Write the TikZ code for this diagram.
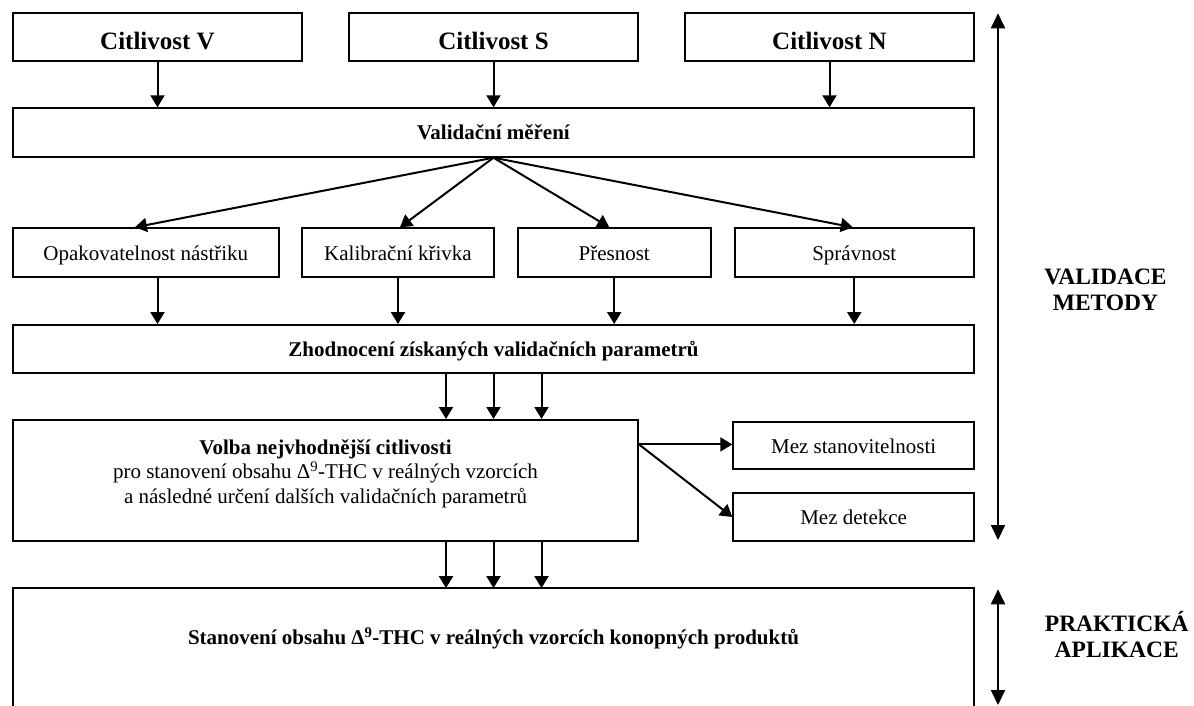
\documentclass[tikz,border=0pt]{standalone}
\usepackage{fontspec}
\setmainfont{Liberation Serif}
\usetikzlibrary{arrows.meta,calc}
\begin{document}
\begin{tikzpicture}[x=1pt,y=-1pt,
  box/.style={draw, line width=2pt, inner sep=0pt, align=center,
    text height=16.5pt, text depth=1.5pt,
    font=\fontsize{21}{24.5}\selectfont},
  bbox/.style={box, font=\bfseries\fontsize{21}{24.5}\selectfont},
  cbox/.style={box, text height=28pt, text depth=2pt, font=\bfseries\fontsize{25}{28}\selectfont},
  arr/.style={line width=2pt, -{Triangle[length=12pt,width=14pt]}},
  darr/.style={line width=2pt, {Triangle[length=15pt,width=14pt]}-{Triangle[length=15pt,width=14pt]}},
  side/.style={align=center, inner sep=0pt, font=\bfseries\fontsize{23.5}{26.5}\selectfont}]
\useasboundingbox (0,0) rectangle (1194,706);

% top row
\node[cbox, minimum width=289pt, minimum height=48.3pt] (cv) at (157.5,36.85) {Citlivost V};
\node[cbox, minimum width=289pt, minimum height=48.3pt] (cs) at (493.5,36.85) {Citlivost S};
\node[cbox, minimum width=289pt, minimum height=48.3pt] (cn) at (829.5,36.85) {Citlivost N};

% validation measurement
\node[bbox, minimum width=961pt, minimum height=48.4pt] (val) at (493.5,132.5) {Validační měření};

% second row
\node[box, minimum width=265.6pt, minimum height=49pt] (op) at (145.8,252.8) {Opakovatelnost nástřiku};
\node[box, minimum width=191.4pt, minimum height=49pt] (ka) at (398,252.8) {Kalibrační křivka};
\node[box, minimum width=192.8pt, minimum height=49pt] (pr) at (614.2,252.8) {Přesnost};
\node[box, minimum width=239.5pt, minimum height=49pt] (sp) at (854.25,252.8) {Správnost};

% evaluation
\node[bbox, minimum width=961pt, minimum height=48.3pt] (zh) at (493.5,349.2) {Zhodnocení získaných validačních parametrů};

% choice
\node[box, text height=, text depth=, minimum width=625pt, minimum height=120.7pt] (vo) at (325.5,480.35) {};
\node[align=center, inner sep=0pt, font=\fontsize{21}{24.5}\selectfont] (vot) at ($(vo.center)+(0,-6.8)$)
  {\textbf{Volba nejvhodnější citlivosti}\\
   pro stanovení obsahu Δ\textsuperscript{9}-THC v reálných vzorcích\\
   a následné určení dalších validačních parametrů};

\node[box, minimum width=240.7pt, minimum height=47.6pt] (ms) at (853.65,445.5) {Mez stanovitelnosti};
\node[box, minimum width=240.7pt, minimum height=47.4pt] (md) at (853.65,517) {Mez detekce};

% bottom (open) box
\node[inner sep=0pt, minimum width=961pt, minimum height=100pt,
  font=\bfseries\fontsize{21}{24.5}\selectfont] (bo) at (493.5,638.3)
  {Stanovení obsahu Δ\textsuperscript{9}-THC v reálných vzorcích konopných produktů};
\draw[line width=2pt] ($(bo.south west)+(0,30)$) -- (bo.north west) -- (bo.north east) -- ($(bo.south east)+(0,30)$);

% arrows top row -> val
\draw[arr] (cv.south) -- (cv.south |- val.north);
\draw[arr] (cs.south) -- (cs.south |- val.north);
\draw[arr] (cn.south) -- (cn.south |- val.north);

% fan
\draw[arr] (val.south) -- ($(op.north west)!0.459!(op.north east)$);
\draw[arr] (val.south) -- ($(ka.north west)!0.51!(ka.north east)$);
\draw[arr] (val.south) -- ($(pr.north west)!0.475!(pr.north east)$);
\draw[arr] (val.south) -- ($(sp.north west)!0.494!(sp.north east)$);

% second row -> zh
\draw[arr] (op.south -| cv.south) -- (cv.south |- zh.north);
\draw[arr] (ka.south) -- (ka.south |- zh.north);
\draw[arr] (pr.south) -- (pr.south |- zh.north);
\draw[arr] (sp.south) -- (sp.south |- zh.north);

% triple arrows
\coordinate (t1) at ($(zh.south)+(-47.5,0)$);
\coordinate (t2) at (zh.south);
\coordinate (t3) at ($(zh.south)+(48,0)$);
\foreach \t in {t1,t2,t3} {
  \draw[arr] (\t) -- (\t |- vo.north);
  \draw[arr] (\t |- vo.south) -- (\t |- bo.north);
}

% from choice to limits
\coordinate (vs) at ($(vo.north east)!0.207!(vo.south east)$);
\draw[arr] (vs) -- (vs -| ms.west);
\draw[arr] (vs) -- (md.west);

% side arrows
\coordinate (a1) at (998,13.3);
\coordinate (a2) at (998,540);
\coordinate (a3) at (998,589.3);
\coordinate (a4) at (998,705);
\draw[darr] (a1) -- (a2);
\draw[darr] (a3) -- (a4);

\node[side] (lv) at (1105.5,290) {VALIDACE\\METODY};
\node[side] (lp) at (1116.7,634.5) {PRAKTICKÁ\\APLIKACE};
\end{tikzpicture}
\end{document}
